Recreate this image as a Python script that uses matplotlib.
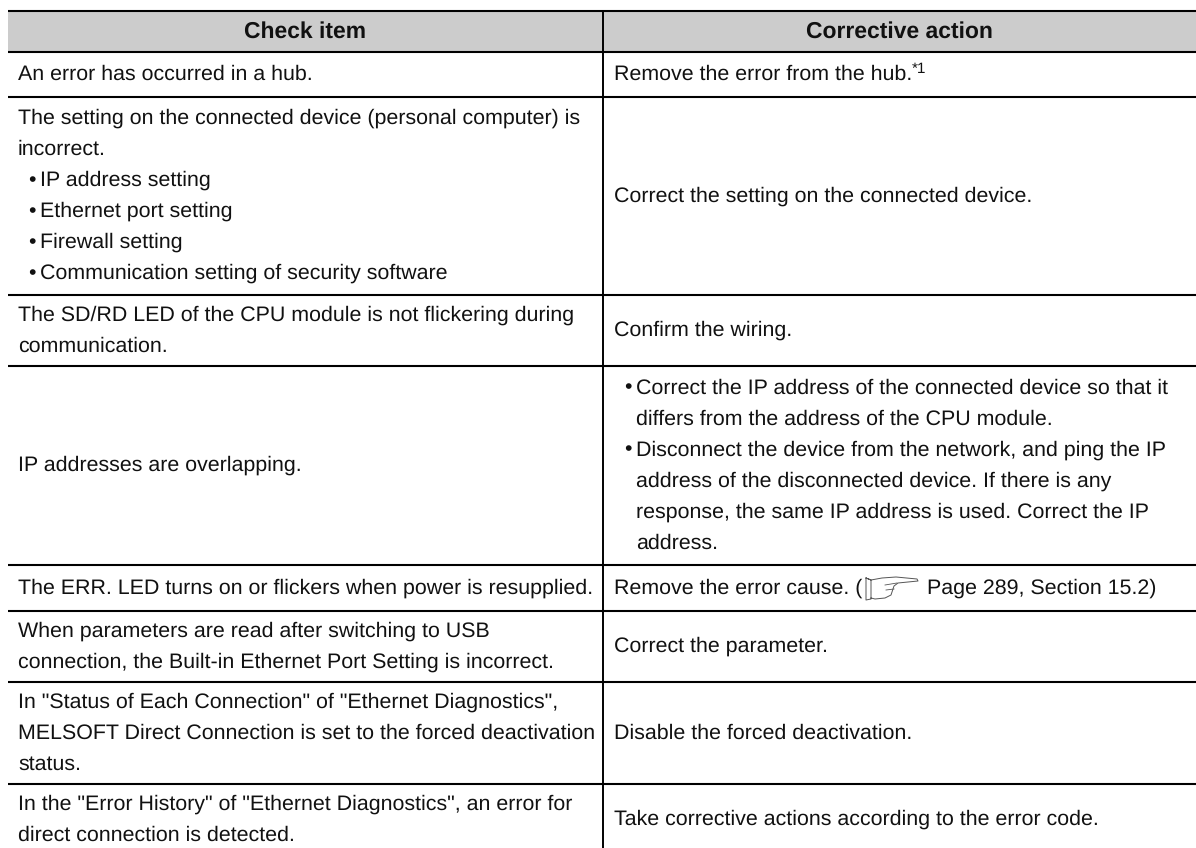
import matplotlib.pyplot as plt
from matplotlib.patches import Rectangle

plt.rcParams['font.family'] = ['Liberation Sans', 'DejaVu Sans']
plt.rcParams['text.hinting'] = 'no_hinting'
plt.rcParams['text.hinting_factor'] = 8

W, H = 1196, 848

headers = ["Check item", "Corrective action"]

check_items = [
    ["An error has occurred in a hub."],
    ["The setting on the connected device (personal computer) is",
     "incorrect.",
     "\u2022 IP address setting",
     "\u2022 Ethernet port setting",
     "\u2022 Firewall setting",
     "\u2022 Communication setting of security software"],
    ["The SD/RD LED of the CPU module is not flickering during",
     "communication."],
    ["IP addresses are overlapping."],
    ["The ERR. LED turns on or flickers when power is resupplied."],
    ["When parameters are read after switching to USB",
     "connection, the Built-in Ethernet Port Setting is incorrect."],
    ['In "Status of Each Connection" of "Ethernet Diagnostics",',
     "MELSOFT Direct Connection is set to the forced deactivation",
     "status."],
    ['In the "Error History" of "Ethernet Diagnostics", an error for',
     "direct connection is detected."],
]

actions = [
    ["Remove the error from the hub."],
    ["Correct the setting on the connected device."],
    ["Confirm the wiring."],
    ["\u2022 Correct the IP address of the connected device so that it",
     "differs from the address of the CPU module.",
     "\u2022 Disconnect the device from the network, and ping the IP",
     "address of the disconnected device. If there is any",
     "response, the same IP address is used. Correct the IP",
     "address."],
    ["Remove the error cause. ("],
    ["Correct the parameter."],
    ["Disable the forced deactivation."],
    ["Take corrective actions according to the error code."],
]

# layout, in pixels of the picture
rules = [11, 52, 97, 295, 366, 565, 611, 682, 784, 855]
left, mid, right = 8, 603, 1196
line_gap = 31
fs = 15.4
ink = '#111111'

fig = plt.figure(figsize=(W / 100, H / 100), dpi=100)
ax = fig.add_axes([0, 0, 1, 1])
ax.set_xlim(0, W)
ax.set_ylim(H, 0)
ax.axis('off')

ax.add_patch(Rectangle((left, rules[0]), right - left, rules[1] - rules[0],
                       facecolor='#cccccc', edgecolor='none'))
for y in rules:
    ax.plot([left, right], [y, y], color='black', lw=1.5, solid_capstyle='butt')
ax.plot([mid, mid], [rules[0], H], color='black', lw=1.4, solid_capstyle='butt')

ax.text((left + mid) / 2, 38, headers[0], fontsize=16.5, fontweight='bold',
        ha='center', va='baseline', color=ink)
ax.text((mid + right) / 2, 38, headers[1], fontsize=16.5, fontweight='bold',
        ha='center', va='baseline', color=ink)


def put_cell(lines, x, top, bottom):
    # lines sit centred in the row, a bullet line gets its own indent
    first = (top + bottom) / 2 - 2 - (len(lines) - 1) * line_gap / 2
    for i, line in enumerate(lines):
        y = first + i * line_gap + 7.5
        if line.startswith("\u2022 "):
            ax.text(x + 10, y, "\u2022", fontsize=fs, va='baseline', color=ink)
            ax.text(x + 22, y, line[2:], fontsize=fs, va='baseline', color=ink)
        elif lines[0].startswith("\u2022 "):
            ax.text(x + 22, y, line, fontsize=fs, va='baseline', color=ink)
        else:
            ax.text(x, y, line, fontsize=fs, va='baseline', color=ink)


for i in range(len(check_items)):
    put_cell(check_items[i], left + 10, rules[i + 1], rules[i + 2])
    put_cell(actions[i], mid + 11, rules[i + 1], rules[i + 2])

# footnote mark on the first action
ax.text(912, 73, "*1", fontsize=11, va='baseline', color=ink)

# rest of the cross reference, with the pointing hand
ax.text(927, 594, "Page 289, Section 15.2)", fontsize=fs, va='baseline', color=ink)
hand_x = [866, 866, 871, 871, 866, 871, 882, 896, 917, 918, 898, 894, 891, 885, 875, 871]
hand_y = [578, 600, 599, 580, 578, 580, 578, 577, 579, 581, 583, 586, 595, 598, 599, 598]
ax.plot(hand_x, hand_y, color='#555555', lw=0.7)
ax.plot([885, 897], [585, 583], color='#555555', lw=0.6)
ax.plot([886, 894], [590, 589], color='#555555', lw=0.6)

fig.savefig('out.png', dpi=100)
